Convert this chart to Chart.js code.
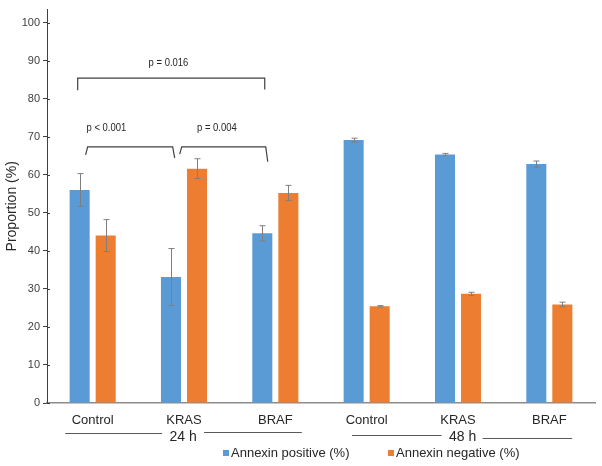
<!DOCTYPE html>
<html>
<head>
<meta charset="utf-8">
<script src="https://cdn.jsdelivr.net/npm/chart.js@4.4.0/dist/chart.umd.min.js"></script>
<style>
  body { margin: 0; background: #fff; }
  canvas { display: block; }
</style>
</head>
<body>
<canvas id="annexinChart" width="602" height="466"></canvas>
<script>
var categories = ["Control", "KRAS", "BRAF", "Control", "KRAS", "BRAF"];
var positiveValues = [56.0, 33.1, 44.6, 69.1, 65.3, 62.8];
var positiveErrors = [4.3, 7.5, 2.0, 0.5, 0.3, 0.8];
var negativeValues = [44.0, 61.6, 55.2, 25.4, 28.7, 25.9];
var negativeErrors = [4.2, 2.6, 2.0, 0.2, 0.4, 0.6];
var yTicks = [0, 10, 20, 30, 40, 50, 60, 70, 80, 90, 100];

// time groups under the axis (positions in category units)
var groups = [
    { label: "24 h", text: 0.99, left: [-0.30, 0.76], right: [1.22, 2.29], ly: [30, 29] },
    { label: "48 h", text: 4.05, left: [2.84, 3.82], right: [4.27, 5.25], ly: [32, 35] }
];

// significance brackets: x in category units, y in data units
var brackets = [
    { text: "p = 0.016", tx: 0.83, ty: 89.5, y: 85.4, x1: -0.164, x2: 1.884, leg1: [-0.164, 82.2], leg2: [1.884, 82.4] },
    { text: "p < 0.001", tx: 0.15, ty: 72.3, y: 67.3, x1: -0.055, x2: 0.876, leg1: [-0.077, 65.2], leg2: [0.898, 64.4] },
    { text: "p = 0.004", tx: 1.36, ty: 72.3, y: 67.3, x1: 0.975, x2: 1.895, leg1: [0.953, 65.4], leg2: [1.917, 63.4] }
];

var errors = [positiveErrors, negativeErrors];

Chart.defaults.font.family = "'Liberation Sans', Arial, sans-serif";

var extras = {
    id: "extras",
    afterDatasetsDraw: function(chart) {
        var ctx = chart.ctx;
        var xs = chart.scales.x, ys = chart.scales.y;
        var cx = function(u) {
            var p0 = xs.getPixelForValue(0), p1 = xs.getPixelForValue(1);
            return p0 + u * (p1 - p0);
        };
        ctx.save();

        // y tick marks poke a little into the plot too
        ctx.strokeStyle = "#404040";
        ctx.lineWidth = 1;
        yTicks.forEach(function(v) {
            var y = Math.round(ys.getPixelForValue(v)) + 0.5;
            ctx.beginPath();
            ctx.moveTo(xs.left, y); ctx.lineTo(xs.left + 3, y);
            ctx.stroke();
        });

        // error bars
        ctx.strokeStyle = "#7f7f7f";
        chart.data.datasets.forEach(function(ds, di) {
            chart.getDatasetMeta(di).data.forEach(function(bar, i) {
                var x = Math.round(bar.x) + 0.5;
                var yt = ys.getPixelForValue(ds.data[i] + errors[di][i]);
                var yb = ys.getPixelForValue(ds.data[i] - errors[di][i]);
                ctx.beginPath();
                ctx.moveTo(x, yt); ctx.lineTo(x, yb);
                ctx.moveTo(x - 3, yt); ctx.lineTo(x + 3, yt);
                ctx.moveTo(x - 3, yb); ctx.lineTo(x + 3, yb);
                ctx.stroke();
            });
        });

        // brackets
        ctx.strokeStyle = "#404040";
        ctx.lineWidth = 1.2;
        ctx.fillStyle = "#262626";
        ctx.font = "11px 'Liberation Sans', Arial, sans-serif";
        ctx.textAlign = "center";
        ctx.textBaseline = "middle";
        brackets.forEach(function(b) {
            var y = ys.getPixelForValue(b.y);
            ctx.beginPath();
            ctx.moveTo(cx(b.leg1[0]), ys.getPixelForValue(b.leg1[1]));
            ctx.lineTo(cx(b.x1), y);
            ctx.lineTo(cx(b.x2), y);
            ctx.lineTo(cx(b.leg2[0]), ys.getPixelForValue(b.leg2[1]));
            ctx.stroke();
            // the labels are set a bit condensed
            ctx.save();
            ctx.translate(cx(b.tx), ys.getPixelForValue(b.ty));
            ctx.scale(0.86, 1);
            ctx.fillText(b.text, 0, 0);
            ctx.restore();
        });

        // time groups
        var base = chart.chartArea.bottom;
        ctx.font = "14px 'Liberation Sans', Arial, sans-serif";
        ctx.strokeStyle = "#595959";
        ctx.lineWidth = 1;
        groups.forEach(function(g) {
            ctx.beginPath();
            ctx.moveTo(cx(g.left[0]), base + g.ly[0] + 0.5);
            ctx.lineTo(cx(g.left[1]), base + g.ly[0] + 0.5);
            ctx.moveTo(cx(g.right[0]), base + g.ly[1] + 0.5);
            ctx.lineTo(cx(g.right[1]), base + g.ly[1] + 0.5);
            ctx.stroke();
            ctx.fillText(g.label, cx(g.text), base + 34);
        });

        // legend
        ctx.font = "13px 'Liberation Sans', Arial, sans-serif";
        ctx.textAlign = "left";
        var lx = [223, 388];
        chart.data.datasets.forEach(function(ds, di) {
            ctx.fillStyle = ds.backgroundColor;
            ctx.fillRect(lx[di], 450, 6, 6);
            ctx.fillStyle = "#262626";
            ctx.fillText(ds.label, lx[di] + 8, 453);
        });
        ctx.restore();
    }
};

new Chart("annexinChart", {
    type: "bar",
    data: {
        labels: categories,
        datasets: [{
            label: "Annexin positive (%)",
            data: positiveValues,
            backgroundColor: "#5b9bd5"
        }, {
            label: "Annexin negative (%)",
            data: negativeValues,
            backgroundColor: "#ed7d31"
        }]
    },
    options: {
        responsive: false,
        animation: false,
        categoryPercentage: 0.57,
        barPercentage: 0.77,
        layout: { padding: { top: 2, right: 7, left: 0, bottom: 0 } },
        plugins: {
            legend: { display: false },
            tooltip: { enabled: false }
        },
        scales: {
            x: {
                grid: { display: false },
                border: { color: "#8c8c8c", width: 1.5 },
                ticks: { color: "#262626", font: { size: 13 }, padding: 2, maxRotation: 0 },
                afterFit: function(scale) { scale.height = 63; }
            },
            y: {
                min: 0,
                max: 103.4,
                grid: { drawOnChartArea: false, drawTicks: true, tickLength: 4, color: "#404040" },
                border: { color: "#404040", width: 1 },
                ticks: { stepSize: 10, color: "#404040", font: { size: 11 }, padding: 3 },
                afterBuildTicks: function(scale) {
                    scale.ticks = yTicks.map(function(v) { return { value: v }; });
                },
                title: {
                    display: true,
                    text: "Proportion (%)",
                    color: "#262626",
                    font: { size: 14 },
                    padding: { top: 4, bottom: 0 }
                },
                afterFit: function(scale) { scale.width = 47; }
            }
        }
    },
    plugins: [extras]
});
</script>
</body>
</html>
